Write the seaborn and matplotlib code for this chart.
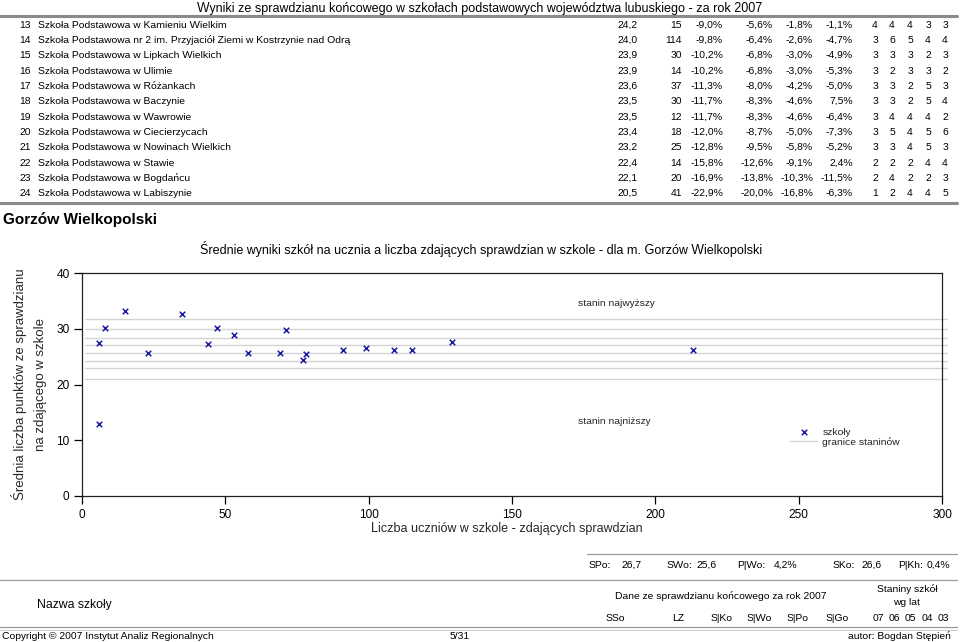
import matplotlib
matplotlib.use("Agg")
import matplotlib.pyplot as plt
from matplotlib.lines import Line2D
import seaborn as sns
import pandas as pd

# ---------------- data ----------------
row_no = [13, 14, 15, 16, 17, 18, 19, 20, 21, 22, 23, 24]
school_names = [
    "Szkoła Podstawowa w Kamieniu Wielkim",
    "Szkoła Podstawowa nr 2 im. Przyjaciół Ziemi w Kostrzynie nad Odrą",
    "Szkoła Podstawowa w Lipkach Wielkich",
    "Szkoła Podstawowa w Ulimie",
    "Szkoła Podstawowa w Różankach",
    "Szkoła Podstawowa w Baczynie",
    "Szkoła Podstawowa w Wawrowie",
    "Szkoła Podstawowa w Ciecierzycach",
    "Szkoła Podstawowa w Nowinach Wielkich",
    "Szkoła Podstawowa w Stawie",
    "Szkoła Podstawowa w Bogdańcu",
    "Szkoła Podstawowa w Labiszynie",
]
sso = [24.2, 24.0, 23.9, 23.9, 23.6, 23.5, 23.5, 23.4, 23.2, 22.4, 22.1, 20.5]
lz = [15, 114, 30, 14, 37, 30, 12, 18, 25, 14, 20, 41]
s_ko = [-9.0, -9.8, -10.2, -10.2, -11.3, -11.7, -11.7, -12.0, -12.8, -15.8, -16.9, -22.9]
s_wo = [-5.6, -6.4, -6.8, -6.8, -8.0, -8.3, -8.3, -8.7, -9.5, -12.6, -13.8, -20.0]
s_po = [-1.8, -2.6, -3.0, -3.0, -4.2, -4.6, -4.6, -5.0, -5.8, -9.1, -10.3, -16.8]
s_go = [-1.1, -4.7, -4.9, -5.3, -5.0, 7.5, -6.4, -7.3, -5.2, 2.4, -11.5, -6.3]
stanine_07 = [4, 3, 3, 3, 3, 3, 3, 3, 3, 2, 2, 1]
stanine_06 = [4, 6, 3, 2, 3, 3, 4, 5, 3, 2, 4, 2]
stanine_05 = [4, 5, 3, 3, 2, 2, 4, 4, 4, 2, 2, 4]
stanine_04 = [3, 4, 2, 3, 5, 5, 4, 5, 5, 4, 2, 4]
stanine_03 = [3, 4, 3, 2, 3, 4, 2, 6, 3, 4, 3, 5]

# scatter: Gorzów Wielkopolski schools
gw_lz = [6, 8, 15, 23, 35, 44, 47, 53, 58, 69, 71, 77, 78, 91, 99, 109, 115, 129, 213, 6]
gw_sso = [27.4, 30.1, 33.1, 25.7, 32.6, 27.3, 30.1, 28.8, 25.7, 25.7, 29.7, 24.4,
          25.4, 26.2, 26.6, 26.2, 26.1, 27.6, 26.1, 13.0]
stanine_bounds = [31.7, 29.9, 28.3, 27.0, 25.6, 24.2, 22.9, 20.9]

summary_labels = ["SPo:", "SWo:", "P|Wo:", "SKo:", "P|Kh:"]
summary_values = ["26,7", "25,6", "4,2%", "26,6", "0,4%"]
header_cols = ["SSo", "LZ", "S|Ko", "S|Wo", "S|Po", "S|Go"]
header_years = ["07", "06", "05", "04", "03"]

# ---------------- style ----------------
sns.set_theme(style="white")
plt.rcParams["font.family"] = ["Liberation Sans", "DejaVu Sans"]
plt.rcParams["text.hinting"] = "native"

W, H = 960, 642
fig = plt.figure(figsize=(W / 100, H / 100), dpi=100)
FS = 7.5


def fx(x):
    return x / W


def fy(y):
    return 1 - y / H


def ftext(x, y, s, **kw):
    """Place text so that its cap-height centre sits at pixel row y."""
    fs = kw.setdefault("fontsize", FS)
    kw.setdefault("color", "black")
    kw["va"] = "baseline"
    off = 0.497 * fs
    fig.text(fx(x), fy(y + off), s, **kw)


def hline(y, x0, x1, lw=1.0, color="#9a9a9a"):
    fig.add_artist(Line2D([fx(x0), fx(x1)], [fy(y), fy(y)], transform=fig.transFigure,
                          lw=lw, color=color))


def pl(v, pct=False):
    s = f"{v:.1f}".replace(".", ",")
    return s + "%" if pct else s


# ---------------- header + table ----------------
ftext(480, 7, "Wyniki ze sprawdzianu końcowego w szkołach podstawowych województwa lubuskiego - za rok 2007",
      ha="center", fontsize=9.1)
hline(15.5, 0, 957, lw=2.2, color="#8a8a8a")

for i in range(len(row_no)):
    y = 23.8 + i * 15.36
    ftext(31, y, str(row_no[i]), ha="right")
    ftext(38, y, school_names[i], ha="left")
    ftext(638, y, pl(sso[i]), ha="right")
    ftext(682, y, str(lz[i]), ha="right")
    ftext(723, y, pl(s_ko[i], True), ha="right")
    ftext(773, y, pl(s_wo[i], True), ha="right")
    ftext(813, y, pl(s_po[i], True), ha="right")
    ftext(853, y, pl(s_go[i], True), ha="right")
    for xc, col in zip([875, 892, 910, 928, 945],
                       [stanine_07, stanine_06, stanine_05, stanine_04, stanine_03]):
        ftext(xc, y, str(col[i]), ha="center")

hline(203, 0, 957, lw=2.2, color="#8a8a8a")
ftext(3, 219, "Gorzów Wielkopolski", ha="left", fontsize=11, fontweight="bold")

# ---------------- chart ----------------
ftext(481, 249, "Średnie wyniki szkół na ucznia a liczba zdających sprawdzian w szkole - dla m. Gorzów Wielkopolski",
      ha="center", fontsize=9.1)

ax = fig.add_axes([fx(82), fy(496), (942 - 82) / W, (496 - 273) / H])
for k, b in enumerate(stanine_bounds):
    ax.axhline(b, xmin=0.003, xmax=1.006, color="#d4d4d4", lw=1.0, clip_on=False,
               label="granice staninów" if k == 0 else None, zorder=1)

df = pd.DataFrame({"lz": gw_lz, "sso": gw_sso})
sns.scatterplot(data=df, x="lz", y="sso", marker="x", color="#1c1ca8", s=16,
                linewidth=1.1, ax=ax, label="szkoły", zorder=3)

ax.set_xlim(0, 300)
ax.set_ylim(0, 40)
ax.set_xticks([0, 50, 100, 150, 200, 250, 300])
ax.set_yticks([0, 10, 20, 30, 40])
ax.tick_params(axis="both", direction="out", length=6, width=0.9, labelsize=8.6,
               colors="black", pad=3, left=True, bottom=True)
for sp in ax.spines.values():
    sp.set_color("#222222")
    sp.set_linewidth(0.9)
ax.set_xlabel("Liczba uczniów w szkole - zdających sprawdzian", fontsize=9.1)
ax.xaxis.set_label_coords(0.494, -0.115)
ax.set_ylabel("Średnia liczba punktów ze sprawdzianu\nna zdającego w szkole", fontsize=9.5,
              linespacing=1.7)
ax.yaxis.set_label_coords(-0.041, 0.5)

ax.text(173, 34.6, "stanin najwyższy", fontsize=FS, va="center", ha="left")
ax.text(173, 13.3, "stanin najniższy", fontsize=FS, va="center", ha="left")

handles, labels = ax.get_legend_handles_labels()
order = [labels.index("szkoły"), labels.index("granice staninów")]
leg = ax.legend([handles[j] for j in order], [labels[j] for j in order],
                loc="upper left", bbox_to_anchor=(fx(790), fy(427)),
                bbox_transform=fig.transFigure, frameon=False, fontsize=FS,
                borderpad=0, borderaxespad=0, labelspacing=0.0, handlelength=2.6,
                handletextpad=0.5, handleheight=0.8)

# ---------------- footer ----------------
hline(554, 587, 957, lw=0.9)
for xs, s in zip([589, 667, 737, 833, 898], summary_labels):
    ftext(xs, 564, s, ha="left")
for xr, s in zip([642, 717, 797, 882, 950], summary_values):
    ftext(xr, 564, s, ha="right")
hline(580, 0, 957, lw=0.9)

ftext(37, 604, "Nazwa szkoły", ha="left", fontsize=8.8)
ftext(721, 595, "Dane ze sprawdzianu końcowego za rok 2007", ha="center")
ftext(907, 588, "Staniny szkół", ha="center")
ftext(906, 601, "wg lat", ha="center")
for xc, s in zip([615, 678, 722, 759, 798, 837], header_cols):
    ftext(xc, 617, s, ha="center")
for xc, s in zip([878, 894, 910, 927, 943], header_years):
    ftext(xc, 617, s, ha="center")
hline(627, 0, 957, lw=0.9)
hline(629.5, 0, 957, lw=0.6, color="#c0c0c0")

ftext(2, 635, "Copyright © 2007 Instytut Analiz Regionalnych", ha="left")
ftext(470, 635, "5/31", ha="right")
ftext(951, 635, "autor: Bogdan Stępień", ha="right")

fig.savefig("out.png", dpi=100)
